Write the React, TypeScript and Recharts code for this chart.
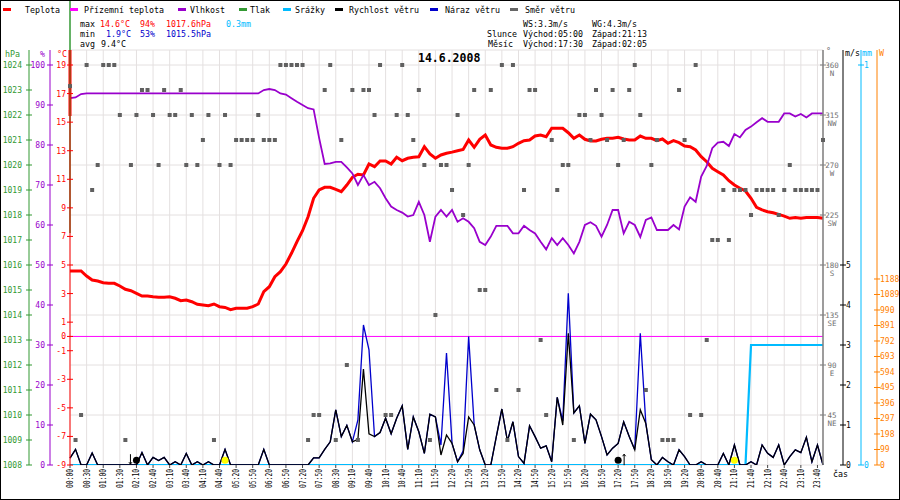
import React from 'react';
import {
  ComposedChart,
  Line,
  Scatter,
  XAxis,
  YAxis,
  CartesianGrid,
  ReferenceLine,
  ReferenceDot,
} from 'recharts';

// ---------- categories ----------
const times = [
  '00:00','00:10','00:20','00:30','00:40','00:50','01:00','01:10','01:20','01:30','01:40','01:50',
  '02:10','02:20','02:30','02:40','02:50','03:00','03:10','03:20','03:30','03:40','03:50','04:00',
  '04:10','04:20','04:30','04:40','05:00','05:10','05:20','05:30','05:40','05:50','06:00','06:10',
  '06:20','06:30','06:40','06:50','07:00','07:10','07:20','07:30','07:40','07:50','08:00','08:10',
  '08:30','08:40','08:50','09:10','09:20','09:30','09:40','09:50','10:00','10:10','10:20','10:30',
  '10:40','10:50','11:00','11:10','11:20','11:30','11:50','12:00','12:10','12:20','12:30','12:40',
  '12:50','13:00','13:10','13:20','13:30','13:40','13:50','14:00','14:10','14:20','14:30','14:40',
  '14:50','15:00','15:10','15:20','15:30','15:40','15:50','16:00','16:10','16:20','16:30','16:40',
  '16:50','17:00','17:10','17:20','17:30','17:40','17:50','18:00','18:10','18:20','18:30','18:40',
  '18:50','19:00','19:10','19:20','19:30','19:40','20:00','20:10','20:20','20:40','20:50','21:00',
  '21:10','21:20','21:30','21:40','21:50','22:00','22:10','22:20','22:30','22:40','22:50','23:00',
  '23:10','23:20','23:30','23:40','23:50',
];

const tickLabels = [
  '00:00','00:30','01:00','01:30','02:10','02:40','03:10','03:40','04:10','04:40','05:20','05:50',
  '06:20','06:50','07:20','07:50','08:30','09:10','09:40','10:10','10:40','11:10','11:50','12:20',
  '12:50','13:20','13:50','14:20','14:50','15:20','15:50','16:20','16:50','17:20','17:50','18:20',
  '18:50','19:20','20:00','20:40','21:10','21:40','22:10','22:40','23:10','23:40',
];

// ---------- series ----------
const temperature = [
  4.58, 4.58, 4.58, 4.23, 3.95, 3.88, 3.76, 3.72, 3.72, 3.53,
  3.3, 3.2, 3.02, 2.83, 2.83, 2.78, 2.74, 2.74, 2.78, 2.67,
  2.5, 2.55, 2.43, 2.25, 2.2, 2.15, 2.27, 2.08, 2.03, 1.87,
  1.97, 1.97, 1.97, 2.08, 2.27, 3.13, 3.48, 4.18, 4.53, 5.07,
  5.82, 6.63, 7.4, 8.38, 9.67, 10.25, 10.44, 10.44, 10.3, 10.13,
  10.6, 11.14, 11.35, 11.3, 12.07, 11.88, 12.28, 12.28, 12.07, 12.54,
  12.3, 12.47, 12.54, 12.58, 13.28, 12.77, 12.47, 12.7, 12.82, 12.9,
  13.0, 13.09, 13.75, 13.24, 13.8, 14.1, 13.4, 13.24, 13.17, 13.17,
  13.28, 13.52, 13.7, 13.75, 14.03, 14.1, 13.98, 14.57, 14.57, 14.57,
  14.26, 13.87, 14.1, 13.8, 13.68, 13.68, 13.8, 13.87, 13.87, 13.94,
  13.82, 13.75, 13.75, 14.03, 13.87, 13.87, 13.7, 13.82, 13.52, 13.7,
  13.56, 13.33, 13.28, 13.05, 12.58, 12.23, 11.77, 11.53, 11.3, 10.9,
  10.6, 10.37, 10.18, 9.67, 9.04, 8.86, 8.73, 8.66, 8.54, 8.42,
  8.27, 8.33, 8.27, 8.33, 8.33, 8.33, 8.27,
];

const humidity = [
  91.7, 91.9, 92.75, 92.9, 92.9, 92.9, 92.9, 92.9, 92.9, 92.9,
  92.9, 92.9, 92.9, 92.9, 92.9, 92.9, 92.9, 92.9, 92.9, 92.9,
  92.9, 92.9, 92.9, 92.9, 92.9, 92.9, 92.9, 92.9, 92.9, 92.9,
  92.9, 92.9, 92.9, 92.9, 92.9, 93.75, 94, 93.75, 92.9, 92.6,
  91.7, 90.8, 90, 89.2, 88.9, 81.7, 75.25, 75.4, 75.8, 75.8,
  74.4, 72.9, 70, 72.5, 70, 70.8, 69.2, 66.7, 64.6, 63.75,
  63.1, 62.1, 62.5, 65.8, 62.5, 55.8, 62.1, 63.75, 62.1, 63.75,
  60.8, 61.7, 60.8, 59.2, 55.8, 55, 57.1, 59.8, 59.8, 59.8,
  57.9, 57.9, 59.8, 58.75, 57.9, 55.8, 53.9, 56.7, 55, 56.7,
  55, 52.9, 55.8, 60, 60.7, 59.8, 57.1, 60, 63.75, 63.75,
  57.9, 60.8, 60, 57, 61.25, 61.9, 58.75, 58.75, 58.75, 60,
  58.9, 64.6, 66.9, 65.8, 72.1, 74.75, 79.2, 80.6, 80.8, 79.75,
  82.75, 81.9, 83.75, 84.6, 85.7, 86.7, 85.8, 85.8, 85.8, 87.9,
  87.9, 87.1, 87.75, 86.9, 87.9, 87.9, 87.9,
];

const windSpeed = [
  0.17, 0.39, 0, 0, 0.3, 0, 0, 0, 0, 0,
  0, 0, 0, 0.31, 0, 0.19, 0.11, 0.19, 0, 0.08,
  0, 0.29, 0, 0.08, 0, 0.08, 0, 0, 0.39, 0,
  0, 0, 0, 0, 0, 0.39, 0, 0, 0, 0,
  0, 0, 0, 0, 0.18, 0.18, 0.39, 0.58, 1.38, 0.71,
  0.99, 0.58, 0.64, 2.4, 0.78, 0.71, 0.81, 1.17, 0.78, 1.17,
  1.48, 0.39, 1.2, 0.83, 0.29, 1.27, 1.2, 0.25, 0.75, 0.54,
  0.08, 0.29, 1.2, 1.0, 0.38, 0, 0, 0.71, 1.4, 0.6,
  1.08, 0.21, 0.04, 0.98, 0.71, 0.42, 0.48, 0.08, 1.69, 1.0,
  3.29, 1.3, 1.48, 0.54, 1.27, 1.13, 0.71, 0.25, 0.42, 0.54,
  1.08, 0.71, 0.38, 1.38, 1.04, 0.13, 0, 0.19, 0.08, 0,
  0.38, 0.21, 0, 0, 0.08, 0, 0, 0, 0.29, 0,
  0.5, 0, 0, 0.08, 0, 0.5, 0.29, 0.19, 0.5, 0,
  0.21, 0.38, 0.31, 0.69, 0.08, 0.5, 0,
];

const windGust = [
  0.17, 0.39, 0, 0, 0.3, 0, 0, 0, 0, 0,
  0, 0, 0, 0.31, 0, 0.19, 0.11, 0.19, 0, 0.08,
  0, 0.29, 0, 0.08, 0, 0.08, 0, 0, 0.39, 0,
  0, 0, 0, 0, 0, 0.39, 0, 0, 0, 0,
  0, 0, 0, 0, 0.18, 0.18, 0.39, 0.58, 1.38, 0.71,
  0.99, 0.58, 1.13, 3.5, 2.88, 0.71, 0.81, 1.17, 0.78, 1.17,
  1.48, 0.39, 1.2, 0.83, 0.29, 1.27, 1.2, 0.5, 2.8, 0.54,
  0.08, 0.35, 3.21, 1.0, 0.38, 0, 0, 0.71, 1.4, 0.6,
  1.08, 0.21, 0.04, 0.98, 0.71, 0.42, 0.48, 0.08, 1.69, 1.1,
  4.29, 1.3, 1.48, 0.54, 1.27, 1.13, 0.71, 0.25, 0.42, 0.54,
  1.08, 0.71, 0.38, 3.29, 1.04, 0.13, 0, 0.19, 0.08, 0,
  0.38, 0.21, 0, 0, 0.08, 0, 0, 0, 0.29, 0,
  0.5, 0, 0, 0.08, 0, 0.5, 0.29, 0.19, 0.5, 0,
  0.21, 0.38, 0.31, 0.69, 0.08, 0.5, 0,
];

const windDir = [
  341, 22.5, 45, 360, 247.5, 270, 360, 360, 360, 315,
  22.5, 270, 315, 337.5, 337.5, 315, 270, 337.5, 315, 315,
  337.5, 270, 315, 270, 292.5, 315, 22.5, 270, 315, 270,
  292.5, 292.5, 292.5, 292.5, 315, 292.5, 292.5, 292.5, 360, 360,
  360, 360, 360, 22.5, 45, 45, 337.5, 360, 22.5, 292.5,
  90, 337.5, 22.5, 337.5, 337.5, 315, 360, 45, 45, 315,
  360, 315, 292.5, 337.5, 270, 22.5, 135, 270, 270, 247.5,
  315, 225, 270, 337.5, 157.5, 157.5, 337.5, 67.5, 360, 22.5,
  360, 67.5, 247.5, 337.5, 337.5, 112.5, 45, 292.5, 247.5, 270,
  270, 22.5, 315, 315, 292.5, 337.5, 315, 292.5, 337.5, 270,
  292.5, 337.5, 360, 315, 67.5, 270, 292.5, 22.5, 22.5, 22.5,
  337.5, 292.5, 45, 360, 45, 112.5, 202.5, 202.5, 247.5, 202.5,
  247.5, 247.5, 247.5, 225, 247.5, 247.5, 247.5, 247.5, 225, 247.5,
  270, 247.5, 247.5, 247.5, 247.5, 247.5, 292.5,
];

const rainTotal = [
  0, 0, 0, 0, 0, 0, 0, 0, 0, 0,
  0, 0, 0, 0, 0, 0, 0, 0, 0, 0,
  0, 0, 0, 0, 0, 0, 0, 0, 0, 0,
  0, 0, 0, 0, 0, 0, 0, 0, 0, 0,
  0, 0, 0, 0, 0, 0, 0, 0, 0, 0,
  0, 0, 0, 0, 0, 0, 0, 0, 0, 0,
  0, 0, 0, 0, 0, 0, 0, 0, 0, 0,
  0, 0, 0, 0, 0, 0, 0, 0, 0, 0,
  0, 0, 0, 0, 0, 0, 0, 0, 0, 0,
  0, 0, 0, 0, 0, 0, 0, 0, 0, 0,
  0, 0, 0, 0, 0, 0, 0, 0, 0, 0,
  0, 0, 0, 0, 0, 0, 0, 0, 0, 0,
  0, 0, 0, 0.3, 0.3, 0.3, 0.3, 0.3, 0.3, 0.3,
  0.3, 0.3, 0.3, 0.3, 0.3, 0.3, 0.3,
];

// sun / moon events placed on the time axis
const skyEvents = [
  { time: '02:10', kind: 'moonset' },
  { time: '05:00', kind: 'sunrise' },
  { time: '17:20', kind: 'moonrise' },
  { time: '21:10', kind: 'sunset' },
];

// ---------- axis ticks ----------
const tempTicks = [19, 17, 15, 13, 11, 9, 7, 5, 3, 1, 0, -1, -3, -5, -7, -9];
const humTicks = [0, 10, 20, 30, 40, 50, 60, 70, 80, 90, 100];
const presTicks = [1008, 1009, 1010, 1011, 1012, 1013, 1014, 1015, 1016, 1017, 1018, 1019, 1020, 1021, 1022, 1023, 1024];
const dirTicks = [45, 90, 135, 180, 225, 270, 315, 360];
const dirNames = ['NE', 'E', 'SE', 'S', 'SW', 'W', 'NW', 'N'];
const windTicks = [0, 1, 2, 3, 4, 5];
const rainTicks = [0, 1];
const solarTicks = [0, 99, 198, 297, 396, 495, 594, 693, 792, 891, 990, 1089, 1188];

const data = times.map((t, i) => ({
  time: t,
  temp: temperature[i],
  hum: humidity[i],
  ws: windSpeed[i],
  wg: windGust[i],
  dir: windDir[i],
  rain: rainTotal[i],
}));

// axis ids (sorted order decides stacking: first = next to the plot)
const AX_TEMP = 'l1_temp';
const AX_HUM = 'l2_hum';
const AX_PRES = 'l3_pres';
const AX_DIR = 'r1_dir';
const AX_WIND = 'r2_wind';
const AX_RAIN = 'r3_rain';
const AX_SOLAR = 'r4_solar';

// ---------- styles ----------
const FONT = "'DejaVu Sans Mono', monospace";
const RED = '#ff0000';
const MAG = '#ff00ff';
const PUR = '#9900cc';
const GRN = '#339933';
const CYAN = '#00bbff';
const BLK = '#000000';
const BLUE = '#0000cc';
const GRAY = '#666666';
const ORANGE = '#ff8000';

function sideTick(side: 'left' | 'right', color: string, size: number, margin: number) {
  return (props: any) => {
    const { x, y, payload } = props;
    const ax = side === 'left' ? x + size + margin : x - size - margin;
    return (
      <g>
        <line x1={ax - 3} x2={ax + 3} y1={y} y2={y} stroke={color} strokeWidth={1} />
        <text
          x={x}
          y={y + 3}
          textAnchor={side === 'left' ? 'end' : 'start'}
          fill={color}
          fontSize={8}
          fontFamily={FONT}
        >
          {payload.value}
        </text>
      </g>
    );
  };
}

const DirTick = (props: any) => {
  const { x, y, payload } = props;
  const ax = x - 3;
  const idx = dirTicks.indexOf(payload.value);
  return (
    <g>
      <line x1={ax - 3} x2={ax + 3} y1={y} y2={y} stroke="#808080" strokeWidth={1} />
      <text x={ax + 9} y={y + 3} textAnchor="middle" fill="#707070" fontSize={7.5} fontFamily={FONT}>
        {payload.value}
      </text>
      <text x={ax + 9} y={y + 11} textAnchor="middle" fill="#707070" fontSize={7.5} fontFamily={FONT}>
        {dirNames[idx]}
      </text>
    </g>
  );
};

const XTick = (props: any) => {
  const { x, y, payload } = props;
  return (
    <text
      x={x + 3}
      y={y}
      transform={`rotate(-90 ${x + 3} ${y})`}
      textAnchor="end"
      fontSize={8}
      fontFamily={FONT}
      fill="#000"
      textLength={19}
      lengthAdjust="spacingAndGlyphs"
    >
      {payload.value}
    </text>
  );
};

const DirSquare = (props: any) => {
  const { cx, cy } = props;
  if (cx == null || cy == null) return null;
  return <rect x={cx - 2} y={cy - 2} width={4} height={4} fill="#606060" />;
};

const SkyMark = (kind: string) => (props: any) => {
  const { cx, cy } = props;
  if (kind === 'sunrise' || kind === 'sunset') {
    return <circle cx={cx} cy={cy} r={3.5} fill="#ffff00" />;
  }
  if (kind === 'moonrise') {
    return (
      <g>
        <circle cx={cx} cy={cy} r={3.5} fill="#000" />
        <path
          d={`M${cx + 6},${cy + 5}V${cy - 6}M${cx + 4.5},${cy - 4}L${cx + 6},${cy - 6}L${cx + 7.5},${cy - 4}`}
          stroke="#000"
          fill="none"
          strokeWidth={1}
        />
      </g>
    );
  }
  return (
    <g>
      <circle cx={cx} cy={cy} r={3.5} fill="#000" />
      <path
        d={`M${cx - 6},${cy - 6}V${cy + 4}M${cx - 7.5},${cy + 2}L${cx - 6},${cy + 4}L${cx - 4.5},${cy + 2}`}
        stroke="#000"
        fill="none"
        strokeWidth={1}
      />
    </g>
  );
};

// ---------- header texts ----------
const legendItems = [
  { label: 'Teplota', color: RED, dash: 3, text: 25 },
  { label: 'Přízemní teplota', color: MAG, dash: 70, text: 84 },
  { label: 'Vlhkost', color: PUR, dash: 178, text: 190 },
  { label: 'Tlak', color: GRN, dash: 239, text: 250 },
  { label: 'Srážky', color: CYAN, dash: 283, text: 295 },
  { label: 'Rychlost větru', color: BLK, dash: 335, text: 349 },
  { label: 'Náraz větru', color: BLUE, dash: 430, text: 445 },
  { label: 'Směr větru', color: GRAY, dash: 510, text: 525 },
];

const headerTexts = [
  { t: 'max', x: 80, y: 27, c: BLK },
  { t: '14.6°C', x: 100, y: 27, c: RED },
  { t: '94%', x: 140, y: 27, c: RED },
  { t: '1017.6hPa', x: 166, y: 27, c: RED },
  { t: '0.3mm', x: 226, y: 27, c: CYAN },
  { t: 'min', x: 80, y: 37, c: BLK },
  { t: '1.9°C', x: 106, y: 37, c: BLUE },
  { t: '53%', x: 140, y: 37, c: BLUE },
  { t: '1015.5hPa', x: 166, y: 37, c: BLUE },
  { t: 'avg', x: 80, y: 47, c: BLK },
  { t: '9.4°C', x: 101, y: 47, c: BLK },
  { t: 'WS:3.3m/s', x: 523, y: 27, c: BLK },
  { t: 'WG:4.3m/s', x: 592, y: 27, c: BLK },
  { t: 'Slunce', x: 487, y: 37, c: BLK },
  { t: 'Východ:05:00', x: 523, y: 37, c: BLK },
  { t: 'Západ:21:13', x: 592, y: 37, c: BLK },
  { t: 'Měsíc', x: 488, y: 47, c: BLK },
  { t: 'Východ:17:30', x: 523, y: 47, c: BLK },
  { t: 'Západ:02:05', x: 592, y: 47, c: BLK },
  { t: 'hPa', x: 5, y: 57, c: GRN },
  { t: '%', x: 40, y: 57, c: PUR },
  { t: '°C', x: 57, y: 57, c: RED },
  { t: '°', x: 826, y: 54, c: GRAY },
  { t: 'm/s', x: 845, y: 56, c: BLK },
  { t: 'mm', x: 862, y: 56, c: CYAN },
  { t: 'W', x: 879, y: 56, c: ORANGE },
  { t: 'čas', x: 833, y: 477, c: BLK },
];

export default function App() {
  return (
    <div style={{ position: 'relative', width: 900, height: 500, background: '#fff' }}>
      <style>{'body{margin:0;background:#fff;}'}</style>
      <ComposedChart
        width={900}
        height={500}
        data={data}
        margin={{ top: 50, right: 0, bottom: 0, left: 0 }}
      >
        <CartesianGrid yAxisId={AX_DIR} stroke="#e4e0e0" strokeWidth={1} />
        <XAxis
          dataKey="time"
          type="category"
          scale="point"
          ticks={tickLabels}
          interval={0}
          height={35}
          padding={{ left: 0, right: 0 }}
          axisLine={false}
          tickSize={3}
          tickMargin={1}
          tickLine={{ stroke: '#444' }}
          tick={XTick}
        />
        <YAxis
          yAxisId={AX_TEMP}
          orientation="left"
          width={20}
          type="number"
          domain={[-9, 20.05]}
          allowDataOverflow
          ticks={tempTicks}
          interval={0}
          axisLine={{ stroke: RED }}
          tickLine={false}
          tickSize={3}
          tickMargin={1}
          tick={sideTick('left', RED, 3, 1)}
        />
        <YAxis
          yAxisId={AX_HUM}
          orientation="left"
          width={21}
          type="number"
          domain={[0, 103.75]}
          allowDataOverflow
          ticks={humTicks}
          interval={0}
          axisLine={{ stroke: PUR }}
          tickLine={false}
          tickSize={3}
          tickMargin={2}
          tick={sideTick('left', PUR, 3, 2)}
        />
        <YAxis
          yAxisId={AX_PRES}
          orientation="left"
          width={29}
          type="number"
          domain={[1008, 1024.6]}
          allowDataOverflow
          ticks={presTicks}
          interval={0}
          axisLine={{ stroke: GRN }}
          tickLine={false}
          tickSize={3}
          tickMargin={4}
          tick={sideTick('left', GRN, 3, 4)}
        />
        <YAxis
          yAxisId={AX_DIR}
          orientation="right"
          width={20}
          type="number"
          domain={[0, 373.5]}
          allowDataOverflow
          ticks={dirTicks}
          interval={0}
          axisLine={{ stroke: '#808080', strokeWidth: 1.5 }}
          tickLine={false}
          tickSize={3}
          tickMargin={0}
          tick={DirTick}
        />
        <YAxis
          yAxisId={AX_WIND}
          orientation="right"
          width={18}
          type="number"
          domain={[0, 10.375]}
          allowDataOverflow
          ticks={windTicks}
          interval={0}
          axisLine={{ stroke: BLK }}
          tickLine={false}
          tickSize={3}
          tickMargin={0}
          tick={sideTick('right', BLK, 3, 0)}
        />
        <YAxis
          yAxisId={AX_RAIN}
          orientation="right"
          width={16}
          type="number"
          domain={[0, 1.0375]}
          allowDataOverflow
          ticks={rainTicks}
          interval={0}
          axisLine={{ stroke: CYAN }}
          tickLine={false}
          tickSize={3}
          tickMargin={0}
          tick={sideTick('right', CYAN, 3, 0)}
        />
        <YAxis
          yAxisId={AX_SOLAR}
          orientation="right"
          width={23}
          type="number"
          domain={[0, 2650.6]}
          allowDataOverflow
          ticks={solarTicks}
          interval={0}
          axisLine={{ stroke: ORANGE }}
          tickLine={false}
          tickSize={3}
          tickMargin={0}
          tick={sideTick('right', ORANGE, 3, 0)}
        />

        <ReferenceLine yAxisId={AX_TEMP} y={0} stroke={MAG} strokeWidth={1} />

        <Scatter yAxisId={AX_DIR} dataKey="dir" isAnimationActive={false} shape={DirSquare} />

        <Line yAxisId={AX_TEMP} dataKey="temp" type="linear" stroke={RED} strokeWidth={3} dot={false} isAnimationActive={false} />
        <Line yAxisId={AX_HUM} dataKey="hum" type="linear" stroke={PUR} strokeWidth={1.8} dot={false} isAnimationActive={false} />
        <Line yAxisId={AX_RAIN} dataKey="rain" type="linear" stroke={CYAN} strokeWidth={2.2} dot={false} isAnimationActive={false} />
        <Line yAxisId={AX_WIND} dataKey="wg" type="linear" stroke={BLUE} strokeWidth={1.3} dot={false} isAnimationActive={false} />
        <Line yAxisId={AX_WIND} dataKey="ws" type="linear" stroke={BLK} strokeWidth={1.3} dot={false} isAnimationActive={false} />

        <ReferenceLine
          yAxisId={AX_TEMP}
          segment={[{ x: '00:00', y: 15.43 }, { x: '00:00', y: 20.05 }]}
          stroke={RED}
          strokeWidth={3}
          ifOverflow="visible"
        />
        <ReferenceLine
          yAxisId={AX_PRES}
          segment={[{ x: '00:00', y: 1017.28 }, { x: '00:00', y: 1026.6 }]}
          stroke={GRN}
          strokeWidth={1.5}
          ifOverflow="visible"
        />

        {skyEvents.map((e) => (
          <ReferenceDot
            key={e.kind}
            yAxisId={AX_WIND}
            x={e.time}
            y={0.12}
            r={3.5}
            ifOverflow="visible"
            shape={SkyMark(e.kind)}
          />
        ))}
      </ComposedChart>

      <svg
        width={900}
        height={500}
        style={{ position: 'absolute', left: 0, top: 0, pointerEvents: 'none' }}
      >
        {legendItems.map((it) => (
          <g key={it.label}>
            <rect x={it.dash} y={8} width={8} height={3} fill={it.color} />
            <text x={it.text} y={12.5} fontSize={8.3} fontFamily={FONT} fill="#000">
              {it.label}
            </text>
          </g>
        ))}
        {headerTexts.map((h, i) => (
          <text key={i} x={h.x} y={h.y} fontSize={8.3} fontFamily={FONT} fill={h.c}>
            {h.t}
          </text>
        ))}
        <text x={418} y={62} fontSize={11.5} fontWeight="bold" fontFamily={FONT} fill="#000">
          14.6.2008
        </text>
        <rect x={0.5} y={0.5} width={899} height={499} fill="none" stroke="#000" strokeWidth={1} />
      </svg>
    </div>
  );
}
